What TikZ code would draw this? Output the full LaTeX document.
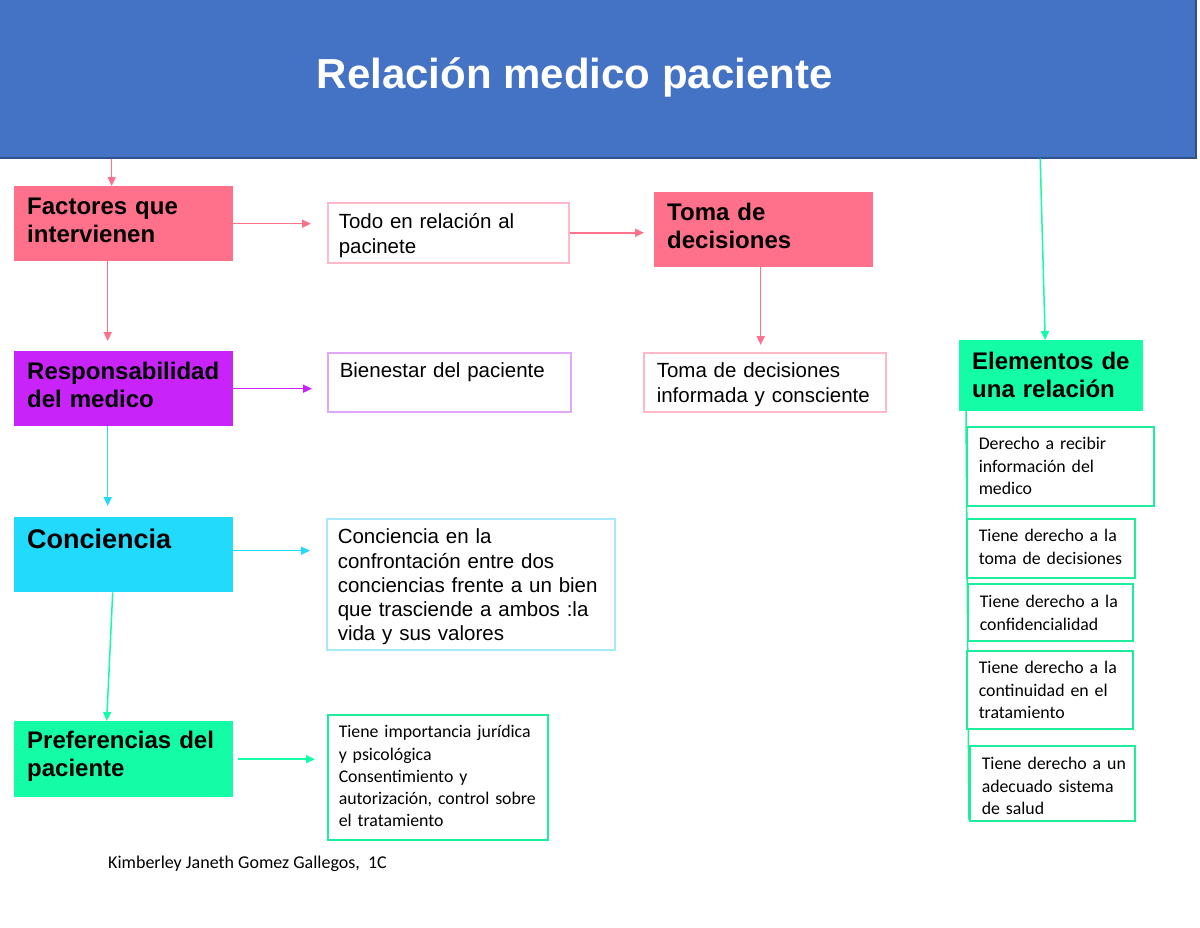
\documentclass[tikz,border=0pt]{standalone}
\usepackage{fontspec}
\setmainfont{Liberation Sans}
\newfontfamily\calibri{Carlito}
\usetikzlibrary{arrows.meta}
\hyphenpenalty=10000
\exhyphenpenalty=10000
\definecolor{headblue}{RGB}{68,114,196}
\definecolor{headedge}{RGB}{47,82,143}
\definecolor{factor}{RGB}{255,113,139}
\definecolor{duty}{RGB}{200,36,250}
\definecolor{aware}{RGB}{34,218,252}
\definecolor{prefer}{RGB}{20,252,166}
\definecolor{factorline}{RGB}{255,185,200}
\definecolor{dutyline}{RGB}{225,168,250}
\definecolor{awareline}{RGB}{165,234,250}
\definecolor{preferline}{RGB}{30,238,155}
\tikzstyle{topic}=[anchor=north west, inner xsep=13pt, inner ysep=0pt, text width=193pt, align=left, font=\bfseries\fontsize{24}{28}\selectfont]
\tikzstyle{detail}=[anchor=north west, inner xsep=11pt, inner ysep=0pt, draw, line width=1.5pt, fill=white, align=left, font=\fontsize{20.5}{24.5}\selectfont]
\tikzstyle{small}=[detail, font=\calibri\fontsize{17.8}{22.3}\selectfont]
\tikzset{link/.style={line width=1.5pt, -{Triangle[length=9pt,width=8pt]}}}

\begin{document}
\begin{tikzpicture}[x=1pt,y=-1pt]
  \useasboundingbox (0,0) rectangle (1200,927);
  %% Title bar
  \draw (-47,-2) node[anchor=north west, fill=headblue, draw=headedge, line width=1.5pt, minimum width=1242pt, inner sep=0pt, text height=90pt, text depth=69pt, text=white, font=\bfseries\fontsize{42}{48}\selectfont] (head) {Relación medico paciente};

  %% Left column
  \draw (14,186) node[topic, fill=factor, text height=28pt, text depth=47pt] (fac) {Factores~que\\intervienen};
  \draw (14,351) node[topic, fill=duty, text height=28pt, text depth=47pt] (resp) {Responsabilidad\\del~medico};
  \draw (14,517) node[topic, fill=aware, text height=31pt, text depth=44pt, font=\bfseries\fontsize{27}{31}\selectfont] (conc) {Conciencia};
  \draw (14,721) node[topic, fill=prefer, text height=27pt, text depth=49pt] (pref) {Preferencias~del\\paciente};

  %% Middle column
  \draw (327,202) node[detail, draw=factorline, text width=219pt, text height=26pt, text depth=34pt] (todo) {Todo~en~relación~al\\pacinete};
  \draw (327,352) node[detail, draw=dutyline, inner xsep=12pt, text width=219pt, text height=25pt, text depth=34pt] (bien) {Bienestar~del~paciente};
  \draw (326,518) node[detail, draw=awareline, text width=266pt, text height=25pt, text depth=106pt, font=\fontsize{20.5}{24.3}\selectfont] (ideal) {Conciencia~en~la\\confrontación~entre~dos\\conciencias~frente~a~un~bien\\que~trasciende~a~ambos~:la\\vida~y~sus~valores};
  \draw (327,714) node[small, draw=preferline, text width=198pt, text height=23pt, text depth=102pt] (imp) {Tiene~importancia~jurídica\\y~psicológica\\Consentimiento~y\\autorización,~control~sobre\\el~tratamiento};

  \draw (654,192) node[topic, fill=factor, text height=28pt, text depth=47pt] (toma) {Toma~de\\decisiones};
  \draw (643,352) node[detail, draw=factorline, inner xsep=13pt, text width=216pt, text height=25pt, text depth=34pt] (info) {Toma~de~decisiones\\informada~y~consciente};

  %% Right column
  \draw (959,340) node[topic, fill=prefer, text width=158pt, text height=29pt, text depth=42pt] (elem) {Elementos~de\\una~relación};
  \draw[line width=1.5pt, color=preferline] (966,411) -- (969,820);
  \draw (966,426) node[small, draw=preferline, inner xsep=12pt, text width=163pt, text height=23pt, text depth=56pt] (der1) {Derecho~a~recibir\\información~del\\medico};
  \draw (966,518) node[small, draw=preferline, inner xsep=12pt, text width=144pt, text height=23pt, text depth=36pt] (der2) {Tiene~derecho~a~la\\toma~de~decisiones};
  \draw (967,583) node[small, draw=preferline, inner xsep=12pt, text width=141pt, text height=24pt, text depth=33pt] (der3) {Tiene~derecho~a~la\\confidencialidad};
  \draw (966,650) node[small, draw=preferline, inner xsep=12pt, text width=142pt, text height=23pt, text depth=55pt] (der4) {Tiene~derecho~a~la\\continuidad~en~el\\tratamiento};
  \draw (969,745) node[small, draw=preferline, inner xsep=12pt, text width=141pt, text height=24pt, text depth=51pt] (der5) {Tiene~derecho~a~un\\adecuado~sistema\\de~salud};

  %% Footer
  \draw (108,868) node[anchor=base west, inner sep=0pt, font=\calibri\fontsize{18}{22}\selectfont] (autor) {Kimberley Janeth Gomez Gallegos,\ \ 1C};

  %% Arrows
  \draw[link, color=factor] ([xshift=-12pt]head.south -| fac.north) -- ([xshift=-12pt]fac.north);
  \draw[link, color=factor, shorten >=10pt] ([xshift=-16pt]fac.south) -- ([xshift=-16pt]fac.south |- resp.north);
  \draw[link, color=aware, shorten >=11pt] ([xshift=-16pt]resp.south) -- ([xshift=-16pt]resp.south |- conc.north);
  \draw[link, color=prefer] ([xshift=-11pt]conc.south) -- ([xshift=-17pt]pref.north);

  \draw[link, color=factor, shorten >=16pt] (fac.east) -- (fac.east -| todo.west);
  \draw[link, color=factor, shorten >=10pt] (todo.east) -- (todo.east -| toma.west);
  \draw[link, color=factor, shorten >=7pt] ([xshift=-3pt]toma.south) -- ([xshift=-3pt]toma.south |- info.north);
  \draw[link, color=duty, shorten >=15pt] (resp.east) -- (resp.east -| bien.west);
  \draw[link, color=aware, shorten >=16pt] ([yshift=4pt]conc.east) -- ([yshift=4pt]conc.east -| ideal.west);
  \draw[link, color=prefer, shorten <=5pt, shorten >=12pt] (pref.east) -- (pref.east -| imp.west);

  \draw[link, color=prefer] ([xshift=-11pt]elem.north |- head.south) -- ([xshift=-6pt]elem.north);
\end{tikzpicture}
\end{document}
